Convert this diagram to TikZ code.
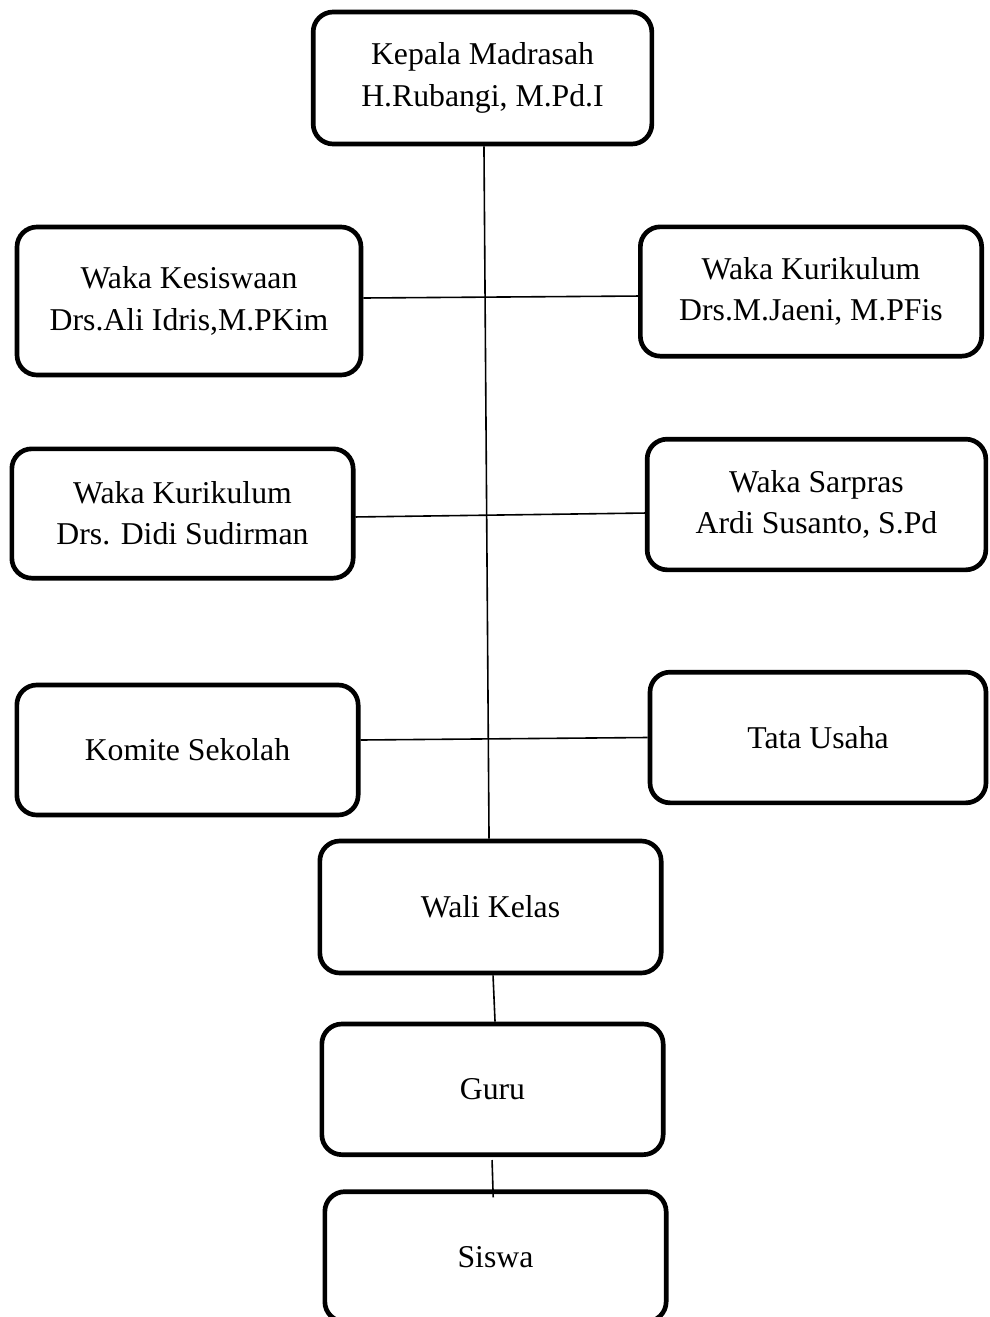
\documentclass[tikz,border=0pt]{standalone}
\usepackage{fontspec}
\setmainfont{Liberation Serif}
\usepackage{tikz}
\usetikzlibrary{positioning}

\tikzset{
  kotak/.style={draw, line width=3.5pt, rounded corners=15pt, align=center,
    minimum width=256pt, minimum height=98pt, inner sep=2pt,
    font=\fontsize{23.8}{31}\selectfont},
  garis/.style={line width=1.2pt}
}

\begin{document}
\begin{tikzpicture}[x=0.75pt, y=-0.75pt]
  \clip (0,0) rectangle (989,1317);

  % Kotak paling atas
  \node[kotak, minimum width=254pt, minimum height=99pt] (kepala) at (482.5,78) {Kepala Madrasah\\H.Rubangi, M.Pd.I};

  % Kotak kiri dan kanan (posisi manual)
  \node[kotak, minimum width=258pt, minimum height=111pt] (kesiswaan) at (189,301) {Waka Kesiswaan\\Drs.Ali Idris,M.PKim};
  \node[kotak, minimum height=97pt] (kurikulumA) at (811,291.5) {Waka Kurikulum\\Drs.M.Jaeni, M.PFis};
  \node[kotak, minimum height=97pt] (kurikulumB) at (182.5,513.5) {Waka Kurikulum\\Drs. Didi Sudirman};
  \node[kotak, minimum width=254pt] (sarpras) at (816.5,504.5) {Waka Sarpras\\Ardi Susanto, S.Pd};
  \node[kotak, minimum height=97.5pt] (komite) at (187.5,750) {Komite Sekolah};
  \node[kotak, minimum width=252pt] (tatausaha) at (818,737.5) {Tata Usaha};

  % Kotak bawah
  \node[kotak, minimum height=99pt] (walikelas) at (490.5,907) {Wali Kelas};
  \node[kotak, below=34.75pt of walikelas, xshift=1.5pt] (guru) {Guru};
  \node[kotak, minimum height=97.5pt, below=24.25pt of guru, xshift=2.25pt] (siswa) {Siswa};

  % Garis
  \draw[garis] ([xshift=1.1pt]kepala.south) -- ([xshift=-1.1pt]walikelas.north);
  \draw[garis] ([yshift=2.25pt]kesiswaan.east) -- ([yshift=-3.4pt]kurikulumA.west);
  \draw[garis] ([yshift=-2.6pt]kurikulumB.east) -- ([yshift=-6.4pt]sarpras.west);
  \draw[garis] ([yshift=7.5pt]komite.east) -- (tatausaha.west);
  \draw[garis] ([xshift=1.9pt]walikelas.south) -- ([xshift=1.9pt]guru.north);
  \draw[garis, shorten <=2.25pt, shorten >=-6pt] ([xshift=-0.4pt]guru.south) -- ([xshift=-1.9pt]siswa.north);
\end{tikzpicture}
\end{document}
